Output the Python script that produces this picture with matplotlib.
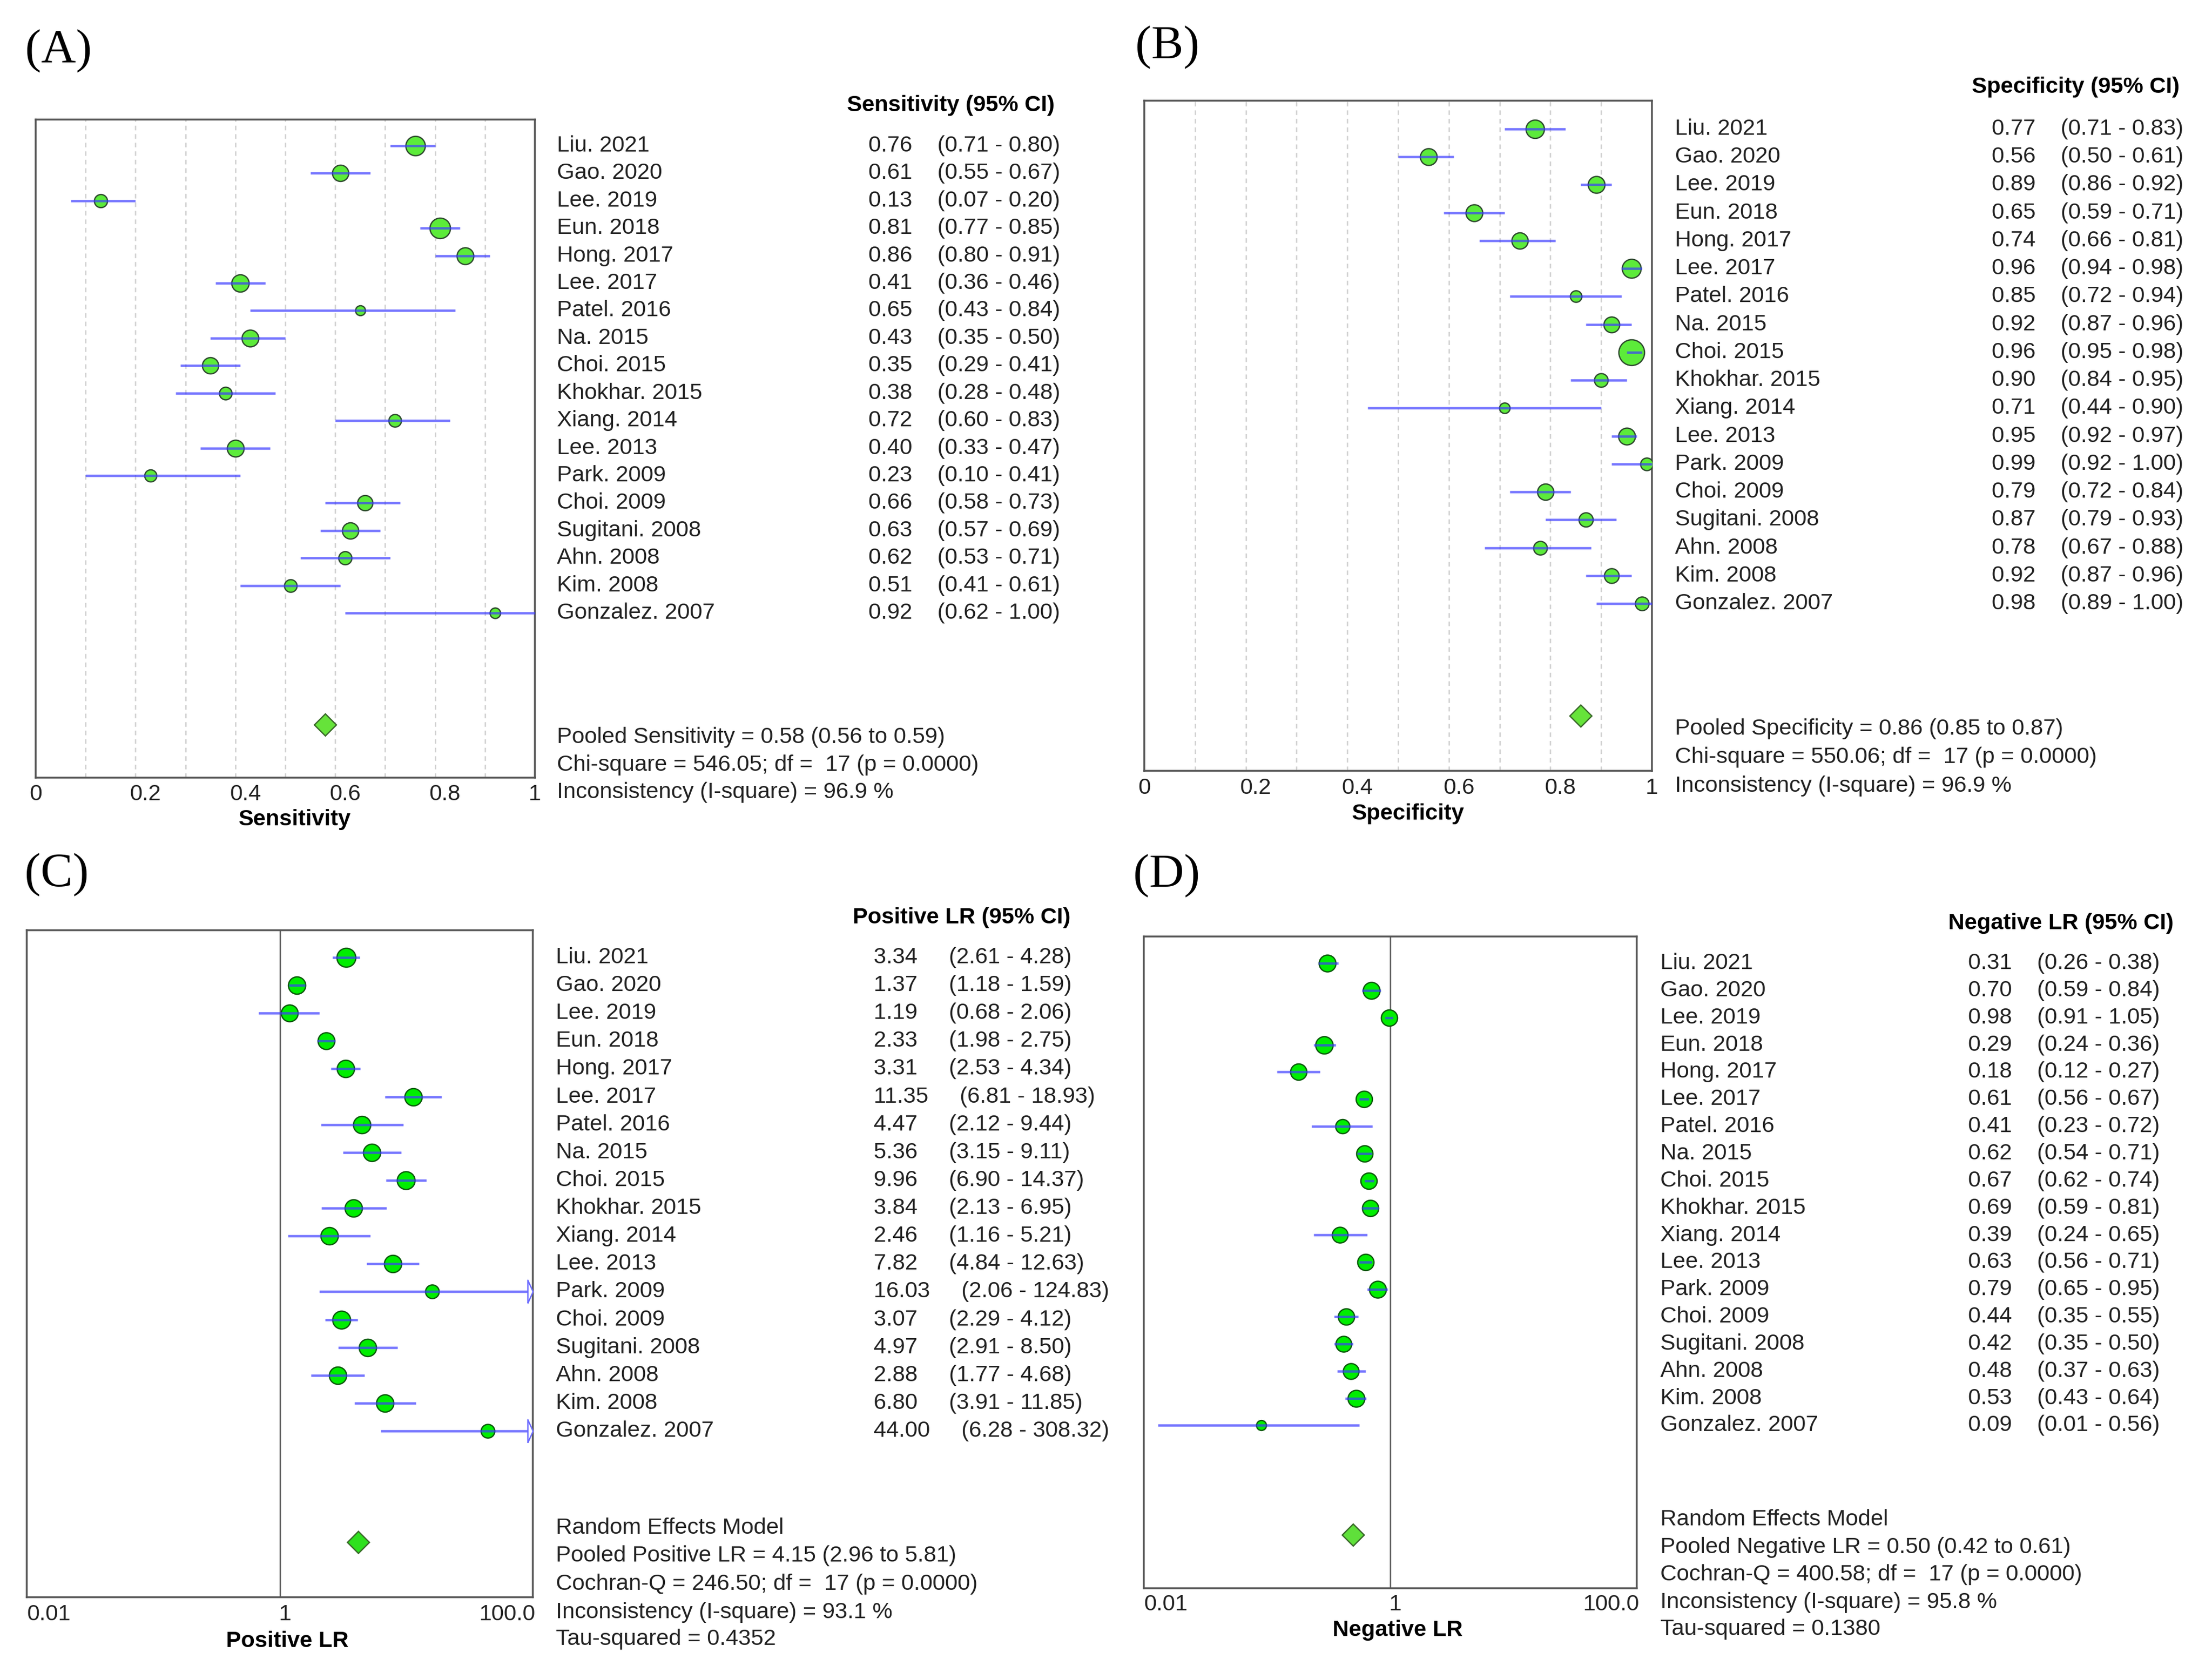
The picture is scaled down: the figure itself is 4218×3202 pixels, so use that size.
import numpy as np
import matplotlib.pyplot as plt
from matplotlib import transforms

W, H, DPI = 4218, 3202, 100
plt.rcParams['font.family'] = ['Liberation Sans', 'DejaVu Sans']
FS = 31

# ---- data ----
studies = ['Liu. 2021', 'Gao. 2020', 'Lee. 2019', 'Eun. 2018', 'Hong. 2017', 'Lee. 2017',
           'Patel. 2016', 'Na. 2015', 'Choi. 2015', 'Khokhar. 2015', 'Xiang. 2014', 'Lee. 2013',
           'Park. 2009', 'Choi. 2009', 'Sugitani. 2008', 'Ahn. 2008', 'Kim. 2008', 'Gonzalez. 2007']

sens = [0.76, 0.61, 0.13, 0.81, 0.86, 0.41, 0.65, 0.43, 0.35, 0.38, 0.72, 0.40, 0.23, 0.66, 0.63, 0.62, 0.51, 0.92]
sens_lo = [0.71, 0.55, 0.07, 0.77, 0.80, 0.36, 0.43, 0.35, 0.29, 0.28, 0.60, 0.33, 0.10, 0.58, 0.57, 0.53, 0.41, 0.62]
sens_hi = [0.80, 0.67, 0.20, 0.85, 0.91, 0.46, 0.84, 0.50, 0.41, 0.48, 0.83, 0.47, 0.41, 0.73, 0.69, 0.71, 0.61, 1.00]
sens_wt = [37, 31, 25, 39, 32, 33, 19, 32, 31, 24, 24, 32, 23, 29, 31, 25, 24, 20]

spec = [0.77, 0.56, 0.89, 0.65, 0.74, 0.96, 0.85, 0.92, 0.96, 0.90, 0.71, 0.95, 0.99, 0.79, 0.87, 0.78, 0.92, 0.98]
spec_lo = [0.71, 0.50, 0.86, 0.59, 0.66, 0.94, 0.72, 0.87, 0.95, 0.84, 0.44, 0.92, 0.92, 0.72, 0.79, 0.67, 0.87, 0.89]
spec_hi = [0.83, 0.61, 0.92, 0.71, 0.81, 0.98, 0.94, 0.96, 0.98, 0.95, 0.90, 0.97, 1.00, 0.84, 0.93, 0.88, 0.96, 1.00]
spec_wt = [35, 32, 32, 32, 31, 36, 22, 30, 49, 26, 20, 32, 24, 31, 27, 26, 28, 26]

plr = [3.34, 1.37, 1.19, 2.33, 3.31, 11.35, 4.47, 5.36, 9.96, 3.84, 2.46, 7.82, 16.03, 3.07, 4.97, 2.88, 6.80, 44.00]
plr_lo = [2.61, 1.18, 0.68, 1.98, 2.53, 6.81, 2.12, 3.15, 6.90, 2.13, 1.16, 4.84, 2.06, 2.29, 2.91, 1.77, 3.91, 6.28]
plr_hi = [4.28, 1.59, 2.06, 2.75, 4.34, 18.93, 9.44, 9.11, 14.37, 6.95, 5.21, 12.63, 124.83, 4.12, 8.50, 4.68, 11.85, 308.32]
plr_wt = [36, 33, 32, 32, 33, 33, 33, 33, 34, 33, 33, 33, 26, 34, 33, 33, 33, 26]

nlr = [0.31, 0.70, 0.98, 0.29, 0.18, 0.61, 0.41, 0.62, 0.67, 0.69, 0.39, 0.63, 0.79, 0.44, 0.42, 0.48, 0.53, 0.09]
nlr_lo = [0.26, 0.59, 0.91, 0.24, 0.12, 0.56, 0.23, 0.54, 0.62, 0.59, 0.24, 0.56, 0.65, 0.35, 0.35, 0.37, 0.43, 0.013]
nlr_hi = [0.38, 0.84, 1.05, 0.36, 0.27, 0.67, 0.72, 0.71, 0.74, 0.81, 0.65, 0.71, 0.95, 0.55, 0.50, 0.63, 0.64, 0.56]
nlr_wt = [32, 32, 31, 33, 31, 31, 27, 31, 31, 31, 30, 31, 32, 31, 30, 30, 32, 19]

pooled = {'sens': (0.58, 0.56, 0.59), 'spec': (0.86, 0.85, 0.87),
          'plr': (4.15, 2.96, 5.81), 'nlr': (0.50, 0.42, 0.61)}

foot_a = ['Pooled Sensitivity = %.2f (%.2f to %.2f)' % pooled['sens'],
          'Chi-square = 546.05; df =  17 (p = 0.0000)',
          'Inconsistency (I-square) = 96.9 %']
foot_b = ['Pooled Specificity = %.2f (%.2f to %.2f)' % pooled['spec'],
          'Chi-square = 550.06; df =  17 (p = 0.0000)',
          'Inconsistency (I-square) = 96.9 %']
foot_c = ['Random Effects Model',
          'Pooled Positive LR = %.2f (%.2f to %.2f)' % pooled['plr'],
          'Cochran-Q = 246.50; df =  17 (p = 0.0000)',
          'Inconsistency (I-square) = 93.1 %',
          'Tau-squared = 0.4352']
foot_d = ['Random Effects Model',
          'Pooled Negative LR = %.2f (%.2f to %.2f)' % pooled['nlr'],
          'Cochran-Q = 400.58; df =  17 (p = 0.0000)',
          'Inconsistency (I-square) = 95.8 %',
          'Tau-squared = 0.1380']

fig = plt.figure(figsize=(W / DPI, H / DPI), dpi=DPI)


def fx(px):
    return px / W


def fy(py):
    return 1 - py / H


def pt(px):
    return px * 72 / DPI


def forest(g, est, lo, hi, wt, pool, header, foot, xlabel, letter, log=False):
    l, t, r, b = g['box']
    ax = fig.add_axes([fx(l), fy(b), (r - l) / W, (b - t) / H])
    rows = np.arange(len(est))
    step, row0 = g['step'], g['row0']
    ax.set_ylim((b - row0) / step, (t - row0) / step)

    if log:
        ax.set_xscale('log')
        ax.set_xlim(0.01, 100)
        ax.axvline(1, color='#555555', lw=pt(2.5), zorder=1)
        face, edge, dface = '#00EE00', '#0B5A0B', g['dface']
    else:
        ax.set_xlim(0, 1)
        for v in np.arange(1, 10) / 10:
            ax.axvline(v, color='#cfcfcf', lw=pt(2.5), ls=(0, (3.5, 3)), zorder=0)
        face, edge, dface = '#5CEB3A', '#2E4A2E', '#66E33A'
    xmax = ax.get_xlim()[1]

    for i in rows:
        ax.plot(est[i], i, 'o', ms=pt(wt[i]), mfc=face, mec=edge, mew=pt(2.5), zorder=3)
        ax.plot([lo[i], min(hi[i], xmax)], [i, i], color='#3C3CFF', alpha=0.7,
                lw=pt(4.5), solid_capstyle='butt', zorder=4, clip_on=False)
        if hi[i] > xmax:
            ax.plot(xmax, i, marker=[(-0.45, -1), (0, 0), (-0.45, 1), (-0.45, -1)],
                    ms=pt(44), mfc='white', mec='#6A6AFF', mew=pt(2.5), zorder=5, clip_on=False)

    ax.plot(pool[0], (g['diamond'] - row0) / step, 'D', ms=pt(29), mfc=dface,
            mec='#3A6A2A', mew=pt(2.5), zorder=3)

    for s in ax.spines.values():
        s.set_color('#555555')
        s.set_linewidth(pt(3.5))
    ax.set_yticks([])
    ax.tick_params(axis='x', which='both', length=0, labelsize=FS, pad=pt(g['pad']),
                   labelcolor='#222222')
    if log:
        ax.set_xticks([0.01, 1, 100], ['0.01', '1', '100.0'])
        ax.minorticks_off()
        labs = ax.get_xticklabels()
        labs[0].set_ha('left')
        labs[1].set_transform(labs[1].get_transform() +
                              transforms.ScaledTranslation(10 / DPI, 0, fig.dpi_scale_trans))
        labs[2].set_ha('right')
        labs[2].set_transform(labs[2].get_transform() +
                              transforms.ScaledTranslation(5 / DPI, 0, fig.dpi_scale_trans))
    else:
        ax.set_xticks([0, 0.2, 0.4, 0.6, 0.8, 1], ['0', '0.2', '0.4', '0.6', '0.8', '1'])
        for lab in ax.get_xticklabels()[1:-1]:
            lab.set_transform(lab.get_transform() +
                              transforms.ScaledTranslation(19 / DPI, 0, fig.dpi_scale_trans))

    ax.set_xlabel(xlabel, fontsize=FS, fontweight='bold', va='center')
    ax.xaxis.set_label_coords((g['xlab'][0] - l) / (r - l), (b - g['xlab'][1]) / (b - t))

    # study rows to the right of the plot
    tr = transforms.blended_transform_factory(fig.transFigure, ax.transData)
    gap = ' ' * g['gap']
    for i in rows:
        ax.text(fx(g['names_x']), i, studies[i], transform=tr, fontsize=FS,
                va='center', ha='left', color='#222222')
        ax.text(fx(g['vals_x']), i, '%.2f%s(%.2f - %.2f)' % (est[i], gap, lo[i], hi[i]),
                transform=tr, fontsize=FS, va='center', ha='left', color='#222222')

    fig.text(fx(g['head'][0]), fy(g['head'][1]), header, fontsize=FS, fontweight='bold',
             ha='center', va='center')
    for line, yy in zip(foot, g['foot_y']):
        fig.text(fx(g['names_x']), fy(yy), line, fontsize=FS, ha='left', va='center',
                 color='#222222')
    fig.text(fx(g['letter'][0]), fy(g['letter'][1]), letter, fontsize=66,
             family='Liberation Serif', ha='center', va='center')
    return ax


geo_a = dict(box=(68, 228, 1020, 1483), row0=278, step=52.41, diamond=1382, names_x=1062,
             vals_x=1656, gap=4, head=(1813, 201), foot_y=[1406, 1459, 1511], xlab=(562, 1563),
             letter=(112, 97), pad=12)
geo_b = dict(box=(2182, 192, 3150, 1470), row0=246, step=53.24, diamond=1365, names_x=3194,
             vals_x=3798, gap=4, head=(3958, 166), foot_y=[1390, 1444, 1499], xlab=(2685, 1552),
             letter=(2226, 90), pad=13)
geo_c = dict(box=(51, 1774, 1016, 3046), row0=1826, step=53.12, diamond=2941, names_x=1060,
             vals_x=1666, gap=5, head=(1834, 1750), foot_y=[2914, 2967, 3021, 3075, 3126],
             xlab=(548, 3130), letter=(108, 1668), pad=13, dface='#2EE01E')
geo_d = dict(box=(2181, 1786, 3121, 3029), row0=1837, step=51.85, diamond=2927, names_x=3166,
             vals_x=3753, gap=4, head=(3930, 1761), foot_y=[2898, 2951, 3003, 3056, 3107],
             xlab=(2665, 3109), letter=(2225, 1670), pad=11, dface='#5FE03A')

forest(geo_a, sens, sens_lo, sens_hi, sens_wt, pooled['sens'], 'Sensitivity (95% CI)',
       foot_a, 'Sensitivity', '(A)')
forest(geo_b, spec, spec_lo, spec_hi, spec_wt, pooled['spec'], 'Specificity (95% CI)',
       foot_b, 'Specificity', '(B)')
forest(geo_c, plr, plr_lo, plr_hi, plr_wt, pooled['plr'], 'Positive LR (95% CI)',
       foot_c, 'Positive LR', '(C)', log=True)
forest(geo_d, nlr, nlr_lo, nlr_hi, nlr_wt, pooled['nlr'], 'Negative LR (95% CI)',
       foot_d, 'Negative LR', '(D)', log=True)

fig.savefig('out.png', dpi=DPI, facecolor='white')
